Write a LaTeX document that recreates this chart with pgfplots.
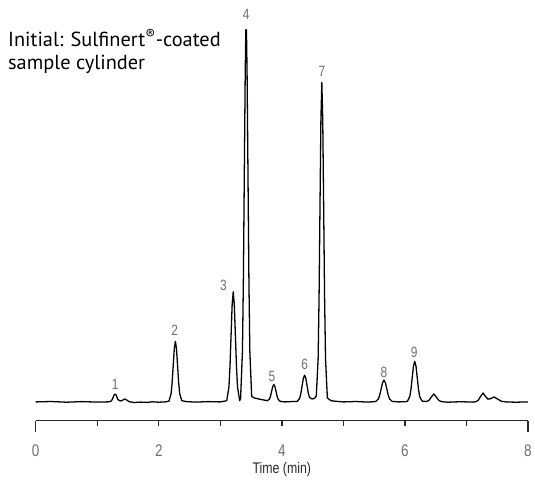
\documentclass[border=0pt]{standalone}
\usepackage{pgfplots}
\pgfplotsset{compat=1.18}
\usepackage{fontspec}
\setmainfont{PT Sans}
\newfontfamily\condfont[FakeStretch=0.8]{Liberation Sans}
\definecolor{lblgray}{RGB}{110,110,110}
\definecolor{axgray}{RGB}{40,40,40}

\begin{document}
\begin{tikzpicture}
\begin{axis}[
	scale only axis,
	width=496pt, height=419pt,
	xmin=0, xmax=8,
	ymin=-19, ymax=400,
	axis x line*=bottom,
	axis y line=none,
	xtick={0,2,4,6,8},
	minor xtick={1,3,5,7},
	extra x ticks={0,8},
	extra x tick labels={},
	extra x tick style={major tick length=11pt},
	tick align=outside,
	major tick length=5pt,
	minor tick length=5pt,
	every tick/.style={axgray, line width=1.4pt},
	axis line style={axgray, line width=1.4pt},
	/pgf/number format/assume math mode=true,
	xticklabel style={font=\condfont\fontsize{17}{17}\selectfont, text=lblgray, anchor=center, yshift=-25pt},
	xlabel={Time (min)},
	xlabel style={font=\condfont\fontsize{15.5}{15.5}\selectfont, text=axgray, at={(rel axis cs:0.5,0)}, anchor=center, yshift=-49pt},
	clip=false
]
\addplot[black, line width=1.3pt, line join=round] coordinates {
	(0,0) (0.25,0.4) (0.5,-0.3) (0.75,0.3) (1.0,-0.2)
	(1.20,0.1) (1.23,1.1) (1.245,2.6) (1.26,4.9) (1.275,7.1) (1.29,8)
	(1.305,7.1) (1.32,4.9) (1.335,2.6) (1.36,1.2)
	(1.39,1.0) (1.42,2.0) (1.45,3) (1.48,1.8) (1.52,0.2)
	(1.6,-0.6) (1.7,-0.2) (1.8,-0.5) (1.9,0.1) (2.0,-0.3) (2.1,0)
	(2.165,0.7) (2.20,8.2) (2.2175,19.8) (2.235,37.0) (2.2525,53.8) (2.27,61)
	(2.2875,53.8) (2.305,37.0) (2.3225,19.8) (2.34,8.2) (2.375,1.2)
	(2.45,0.3) (2.6,-0.2) (2.8,0.3) (3.0,0)
	(3.105,1.2) (3.14,15.0) (3.1575,36.1) (3.175,67.4) (3.1925,97.9) (3.21,111)
	(3.2275,97.9) (3.245,67.4) (3.2625,36.1) (3.28,15.0) (3.315,1.2)
	(3.33,4.1) (3.36,50.9) (3.375,122.5) (3.39,228.8) (3.405,332.5) (3.415,375) (3.425,375)
	(3.435,332.5) (3.45,228.8) (3.465,122.5) (3.48,50.9) (3.51,5.5)
	(3.55,4) (3.62,3) (3.70,2)
	(3.765,1.2) (3.80,3) (3.8175,6.2) (3.835,11) (3.8525,15.6) (3.87,17.5)
	(3.8875,15.5) (3.905,10.8) (3.9225,5.8) (3.94,2.6) (3.975,0.5)
	(4.05,0) (4.15,0.3) (4.25,0.5)
	(4.29,3.6) (4.31,8.8) (4.33,16.4) (4.35,23.8) (4.37,27)
	(4.39,23.8) (4.41,16.4) (4.43,8.8) (4.45,4.5) (4.49,3) (4.53,3.5)
	(4.56,6) (4.59,43.5) (4.605,104.7) (4.62,195.5) (4.635,284.0) (4.65,322)
	(4.665,284.0) (4.68,195.5) (4.695,104.7) (4.71,43.5) (4.74,4)
	(4.80,1.2) (4.9,0.5) (5.0,0) (5.2,0.4) (5.4,-0.2)
	(5.525,0.4) (5.57,3.0) (5.5925,7.2) (5.615,13.4) (5.6375,19.4) (5.66,22)
	(5.6825,19.4) (5.705,13.4) (5.7275,7.2) (5.75,3.0) (5.795,0.5)
	(5.9,0) (6.0,0.2)
	(6.04,0.5) (6.08,5.5) (6.10,13.3) (6.12,24.9) (6.14,36.2) (6.16,41)
	(6.18,36.2) (6.20,24.9) (6.22,13.3) (6.24,5.5) (6.28,0.8)
	(6.35,0.4) (6.39,1.5) (6.43,5) (6.47,8) (6.51,5) (6.55,1.5) (6.6,0.2)
	(6.7,-0.3) (6.9,0.2) (7.1,-0.2)
	(7.15,0.2) (7.19,1.5) (7.23,5.5) (7.27,9) (7.31,5.5) (7.35,2.8)
	(7.39,3.2) (7.45,5) (7.51,2.8) (7.57,0.6) (7.65,0)
	(7.8,-0.3) (8.0,0)
};
% peak numbers
\begin{scope}[every node/.style={font=\condfont\fontsize{15}{15}\selectfont, text=lblgray}]
\node at (axis cs:1.29,18) {1};
\node at (axis cs:2.26,72) {2};
\node at (axis cs:3.05,117) {3};
\node at (axis cs:3.42,391) {4};
\node at (axis cs:3.84,26) {5};
\node at (axis cs:4.37,38) {6};
\node at (axis cs:4.65,333) {7};
\node at (axis cs:5.66,30) {8};
\node at (axis cs:6.15,50) {9};
\end{scope}
\end{axis}
\node[anchor=base west, font=\fontsize{20.5}{20.5}\selectfont, inner sep=0pt] at (-28pt,377pt) {Initial: Sulfinert\textsuperscript{®}-coated};
\node[anchor=base west, font=\fontsize{20.5}{20.5}\selectfont, inner sep=0pt] at (-28pt,354pt) {sample cylinder};
\path (-36pt,-58pt) rectangle (499pt,424pt);
\end{tikzpicture}
\end{document}
